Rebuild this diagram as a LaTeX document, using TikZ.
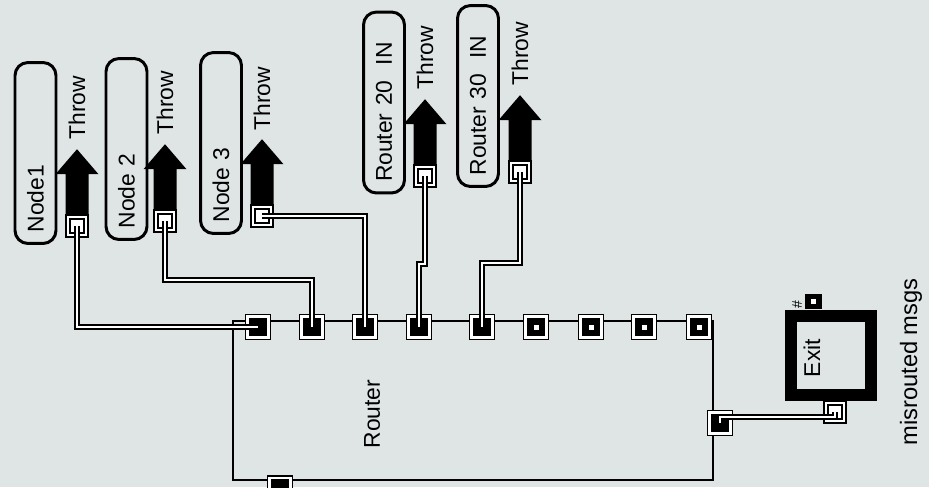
\documentclass[tikz,border=0pt]{standalone}
\usepackage{fontspec}
\setmainfont{Liberation Sans}
\usetikzlibrary{positioning}
\definecolor{paper}{RGB}{223,229,229}

\tikzset{
  pill/.style={draw, line width=1.7pt, rounded corners=0.26cm, rotate=90, minimum width=3.62cm, minimum height=0.82cm, inner xsep=0.22cm, text width=3.18cm, align=left},
  txt/.style={rotate=90, inner sep=0pt},
  port/.style={draw, double=white, line width=0.9pt, double distance=1.5pt, inner sep=0pt, minimum size=0.36cm, fill=white},
  rport/.style={port, minimum size=0.42cm, fill=black},
  wdot/.style={path picture={\fill[white] ([shift={(-2.5,-2.5)}]path picture bounding box.center) rectangle ([shift={(2.5,2.5)}]path picture bounding box.center);}},
  wire/.style={draw=black, double=white, line width=1pt, double distance=1.2pt},
}
\newcommand{\throwarrow}[1]{\fill (#1.north) ++(-11.5,-2) -- ++(0,-40) -- ++(-10,0) -- ++(21.5,-25) -- ++(21.5,25) -- ++(-10,0) -- ++(0,40) -- cycle;}

\begin{document}
\begin{tikzpicture}[x=0.02cm, y=-0.02cm, font=\fontsize{13pt}{15pt}\selectfont]
    \useasboundingbox (0,0) rectangle (929,487);
    \clip (0,0) rectangle (929,487);
    \fill[paper] (0,0) rectangle (929,487);

    % Senders
    \node[pill] (node1) at (35.5,153) {Node1};
    \node[pill] (node2) at (126.5,149) {Node 2};
    \node[pill] (node3) at (221,143) {Node 3};
    \node[pill] (rin20) at (384,102.5) {Router 20~~IN};
    \node[pill] (rin30) at (478,96) {Router 30~~IN};

    % Throw ports
    \node[port] (p1) at (77,226) {};
    \node[port] (p2) at (165,221) {};
    \node[port] (p3) at (262,216) {};
    \node[port] (p4) at (425,176) {};
    \node[port] (p5) at (520,172) {};

    % Throw arrows
    \throwarrow{p1}
    \throwarrow{p2}
    \throwarrow{p3}
    \throwarrow{p4}
    \throwarrow{p5}
    \node[txt, anchor=west] (t1) at (77,140) {Throw};
    \node[txt, anchor=west] (t2) at (165,135) {Throw};
    \node[txt, anchor=west] (t3) at (262,131) {Throw};
    \node[txt, anchor=west] (t4) at (425,90) {Throw};
    \node[txt, anchor=west] (t5) at (520,86) {Throw};

    % Router
    \node[draw, line width=1pt, minimum width=9.6cm, minimum height=3.18cm] (router) at (473,400.5) {};
    \node[txt] (routerlbl) at (372,414) {Router};
    \node[rport] (r1) at (258,327) {};
    \node[rport] (r2) at (312,327) {};
    \node[rport] (r3) at (365,327) {};
    \node[rport] (r4) at (419,327) {};
    \node[rport] (r5) at (482,327) {};
    \node[rport, wdot] (r6) at (536,327) {};
    \node[rport, wdot] (r7) at (591,327) {};
    \node[rport, wdot] (r8) at (644,327) {};
    \node[rport, wdot] (r9) at (699,327) {};
    \node[rport] (rout) at (720,423) {};
    \node[rport] (rbot) at (280,488.5) {};

    % Exit
    \node[draw, line width=6.8pt, minimum width=1.6cm, minimum height=1.58cm] (exit) at (831,355.5) {};
    \node[fill=black, minimum width=0.34cm, minimum height=0.3cm, inner sep=0pt, wdot] (tab) at (813.5,301.5) {};
    \node[txt, font=\fontsize{8pt}{9pt}\selectfont] (hash) at (797,305) {\#};
    \node[txt] (exitlbl) at (812,358) {Exit};
    \node[port] (eport) at (835,412) {};
    \node[txt, font=\fontsize{13.5pt}{15pt}\selectfont] (misrouted) at (911,362) {misrouted msgs};

    % Wires
    \draw[wire] (p1.center) |- (r1.center);
    \draw[wire] (p2.center) -- ++(0,59) -| (r2.center);
    \draw[wire] (p3.center) -| (r3.center);
    \draw[wire] (p4.center) -- ++(0,88) -| (r4.center);
    \draw[wire] (p5.center) -- ++(0,91) -| (r5.center);
    \draw[wire] (rout.center) -- ++(0,-6) -| (eport.center);
\end{tikzpicture}
\end{document}
